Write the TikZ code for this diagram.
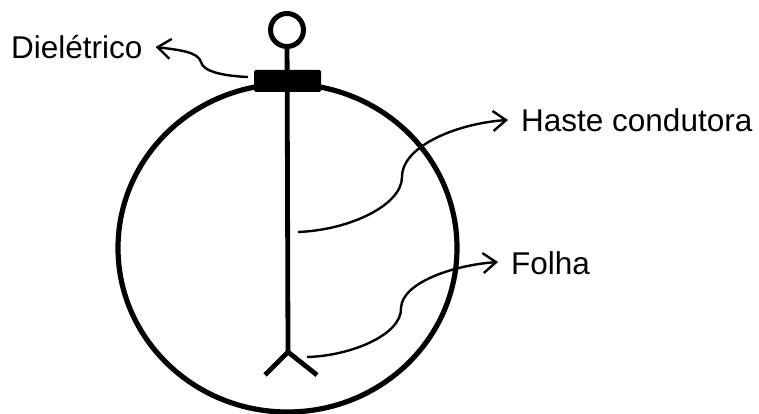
\documentclass[tikz,border=0pt]{standalone}
\usepackage{fontspec}
\setmainfont{Liberation Sans}
\usetikzlibrary{shapes.geometric, arrows.meta, positioning, calc}

\begin{document}
\begin{tikzpicture}[
		x=1pt, y=-1pt,
		font=\fontsize{31.5}{32}\selectfont,
		vesselShape/.style={ellipse, draw=black, line width=5.2pt, minimum width=339pt, minimum height=328pt, inner sep=0pt},
		ringShape/.style={circle, draw=black, line width=5pt, minimum size=33pt, inner sep=0pt},
		capBox/.style={rectangle, rounded corners=1.5pt, fill=black, minimum width=67pt, minimum height=22pt, inner sep=0pt},
		labelText/.style={anchor=west, inner ysep=0pt, inner xsep=13pt, text height=24pt, text depth=0pt},
		rodLine/.style={line width=4.8pt},
		arrow/.style={-{Straight Barb[length=13pt, width=20pt, line width=2.4pt]}, line width=2.4pt, draw=black}
		]
		\useasboundingbox (0,0) rectangle (759,414);

		% Nodos
		\node[vesselShape] (vessel) at (287.5,248) {};
		\node[ringShape] (ring) at (287,30) {};
		\coordinate (fork) at (288,352);
		\coordinate (forkLeft) at (265,375);
		\coordinate (forkRight) at (317,375);
		\node[labelText] (dieletrico) at (-2,47) {Dielétrico};
		\node[labelText] (haste) at (508,120) {Haste condutora};
		\node[labelText] (folha) at (498,262) {Folha};
		\coordinate (capEnd) at (248,77);
		\coordinate (rodEnd) at (298,232);
		\coordinate (rodBend) at (402,177);
		\coordinate (leafEnd) at (307,357);
		\coordinate (leafBend) at (401,308);
		\coordinate (capBend) at (201,62);

		% Haste
		\draw[rodLine] (ring) -- (fork);
		\draw[rodLine] (forkLeft) -- (fork) -- (forkRight);
		\node[capBox] (cap) at (287.5,81) {};

		% Flechas
		\draw[arrow] (capEnd) .. controls (225,76) and (203,72) .. (capBend) .. controls (198,52) and (180,50) .. (dieletrico.east);
		\draw[arrow] (rodEnd) .. controls (350,230) and (402,205) .. (rodBend) .. controls (402,145) and (460,123) .. (haste.west);
		\draw[arrow] (leafEnd) .. controls (350,356) and (402,335) .. (leafBend) .. controls (402,282) and (455,265) .. (folha.west);

	\end{tikzpicture}
\end{document}
